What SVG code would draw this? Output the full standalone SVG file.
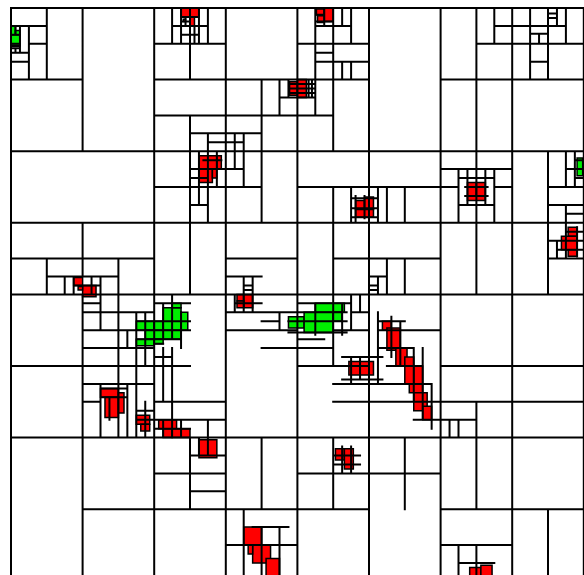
<svg xmlns="http://www.w3.org/2000/svg" width="584" height="575" viewBox="0 0 584 575">
<style>
.ln{fill:none;stroke:#000;stroke-width:2;vector-effect:non-scaling-stroke;stroke-linecap:square}
.r{fill:#f00;stroke:#000;stroke-width:1.5;vector-effect:non-scaling-stroke}
.gr{fill:#0e0;stroke:#000;stroke-width:1.5;vector-effect:non-scaling-stroke}
</style>
<rect width="584" height="575" fill="#fff"/>
<g transform="translate(11 8) scale(2.2375)">
<g id="red">
<rect class="r" x="76" y="0" width="4" height="4"/><rect class="r" x="80" y="0" width="4" height="4"/><rect class="r" x="80" y="4" width="2" height="4"/><rect class="r" x="77" y="5" width="1" height="1"/>
<rect class="r" x="124.5" y="33" width="3.5" height="6"/><rect class="r" x="128" y="32" width="4" height="8"/>
<rect class="r" x="136.5" y="0.5" width="3.5" height="2.5"/><rect class="r" x="140" y="0" width="4" height="6"/><rect class="r" x="137" y="3.5" width="3" height="3"/>
<rect class="r" x="28" y="120.5" width="4" height="3.5"/><rect class="r" x="32" y="124" width="6" height="5"/><rect class="r" x="30" y="124.5" width="2" height="1.5"/>
<rect class="r" x="84" y="66" width="8" height="6"/><rect class="r" x="92" y="66" width="2" height="6"/><rect class="r" x="84" y="72" width="6" height="6"/><rect class="r" x="90" y="72" width="2" height="4"/>
<rect class="r" x="154" y="86" width="4" height="4"/><rect class="r" x="158" y="84.5" width="4" height="5.5"/><rect class="r" x="154" y="90" width="8" height="3.5"/>
<rect class="r" x="204" y="78" width="4" height="6"/><rect class="r" x="208" y="78" width="4" height="6"/><rect class="r" x="204" y="84" width="8" height="2"/>
<rect class="r" x="249" y="98" width="4" height="4"/><rect class="r" x="246" y="102" width="7" height="6"/><rect class="r" x="249" y="108" width="4" height="3"/>
<rect class="r" x="101" y="128" width="3" height="3"/><rect class="r" x="104" y="128" width="4" height="6"/><rect class="r" x="101" y="131" width="3" height="3"/>
<rect class="r" x="40" y="170" width="8" height="4"/><rect class="r" x="42" y="174" width="6" height="9"/><rect class="r" x="48" y="172" width="2.5" height="9"/>
<rect class="r" x="56" y="182" width="6" height="4"/><rect class="r" x="58" y="186" width="4" height="3"/>
<rect class="r" x="66" y="184" width="8" height="4"/><rect class="r" x="72" y="188" width="8" height="4"/><rect class="r" x="68" y="188" width="4" height="4"/>
<rect class="r" x="84" y="193" width="8" height="8"/>
<rect class="r" x="166" y="140" width="4" height="4"/><rect class="r" x="168" y="143" width="6" height="10"/><rect class="r" x="172" y="152" width="5" height="8"/><rect class="r" x="176" y="156" width="4" height="12"/><rect class="r" x="180" y="160" width="4" height="8"/><rect class="r" x="178" y="168" width="6" height="4"/><rect class="r" x="180" y="172" width="6" height="8"/><rect class="r" x="184" y="178" width="4" height="6"/>
<rect class="r" x="151" y="158" width="5" height="6"/><rect class="r" x="156" y="158" width="6" height="6"/>
<rect class="r" x="104" y="232" width="8" height="8"/><rect class="r" x="108" y="240" width="8" height="8"/><rect class="r" x="114" y="246" width="6" height="8"/><rect class="r" x="106" y="240" width="2" height="4"/>
<rect class="r" x="145" y="197" width="4" height="5"/><rect class="r" x="149" y="197" width="4" height="9"/>
<rect class="r" x="205" y="250" width="5" height="4"/><rect class="r" x="210" y="249" width="5" height="5"/>
</g>
<g id="green">
<rect class="gr" x="0" y="8" width="2" height="4"/><rect class="gr" x="2" y="10" width="2" height="2"/><rect class="gr" x="0" y="12" width="4" height="4"/><rect class="gr" x="0" y="16" width="4" height="1"/>
<rect class="gr" x="253" y="67" width="2.5" height="8"/>
<rect class="gr" x="56" y="140" width="8" height="4"/><rect class="gr" x="60" y="144" width="16" height="4"/><rect class="gr" x="64" y="140" width="4" height="4"/><rect class="gr" x="68" y="134" width="8" height="10"/><rect class="gr" x="72" y="132" width="4" height="2"/><rect class="gr" x="56" y="148" width="8" height="3"/><rect class="gr" x="64" y="148" width="4" height="2"/><rect class="gr" x="76" y="136" width="3" height="8"/>
<rect class="gr" x="124" y="138" width="7" height="5"/><rect class="gr" x="131" y="136" width="13" height="9"/><rect class="gr" x="136" y="132" width="13" height="4"/><rect class="gr" x="144" y="136" width="4" height="4"/>
</g>
<g id="grid">
<path class="ln" d="M0 0H256V256H0Z
M16 0V32 M0 8H16 M8 8V32 M8 16H16 M0 20H8 M0 24H8 M4 8V20 M0 12H4 M0 16H4 M0 17H4 M0 18H4 M2 8V12 M2 18V20
M0 32H32 M32 0V64 M0 64H256 M64 0V256
M64 16H96 M80 16V32 M72 0V16 M88 0V16 M72 8H88 M76 0V16 M84 0V16 M76 4H84 M80 0V16 M78 4V8 M76 6H80 M82 8V16 M76 12H84
M96 0V256 M64 32H160 M192 32H256 M128 0V256
M112 32V64 M120 32V48 M120 40H136 M64 48H144 M80 48V128 M80 56H112 M88 56V96 M88 60H104 M100 56V72 M104 56V80
M124 34H136 M124 36H136 M124 38H136 M133 32V40 M134.5 32V40 M124 32V40
M136 0V16 M144 0V64 M128 16H160 M136 8H144 M140 0V8 M136 3H140 M136 6H144 M148 0V8 M152 0V16 M144 8H152
M136 16V48 M136 20H144 M136 24H160 M148 24V32 M152 24V32
M160 0V256 M192 0V256 M208 0V64 M208 16H256 M216 0V16 M216 8H248 M224 0V256 M232 0V32 M240 0V32 M232 11.5H240 M236 11.5V16 M244 0V8 M248 0V16 M240 2.5H244 M240 4.5H244 M232 24H240
M0 96H256 M32 96V112 M0 112H64 M96 112H128 M144 112H192 M240 112H256 M16 112V128 M48 112V128 M16 120H48 M32 112V120 M24 120V128 M40 120V144 M28 120V128 M36 120V128 M28 124H40
M64 80H96 M84 64V80 M92 64V80 M80 72H96 M80 76H88 M84 80V88 M80 88H88 M86 68H94
M96 72H104 M96 80H112 M112 64V96
M128 80H192 M192 80H200 M216 80H224 M240 80H256 M144 80V128 M152 80V96 M164 80V96 M168 80V96 M176 80V96 M154 84V96 M158 84V94 M152 85H164 M152 89.5H164 M152 93.5H164
M168 112V128 M160 120H168 M164 120V128 M160 124H164 M160 126H164 M176 112V128
M96 120H112 M104 120V128 M108 120V128 M104 124H108 M104 126H108
M192 72H224 M200 72V96 M216 72V96 M208 64V128 M240 64V128 M200 88H216 M204 72V88 M212 72V88 M200 76H216 M203 80H213 M203 84H213
M248 64V80 M252 64V80 M248 72H256 M252 68H256 M252 76H256 M240 88H256 M248 88V96 M248 92H256 M248 96V112 M240 104H256 M244 104V112 M253 98V111 M248 100H256 M244 108H256
M0 128H256 M0 160H64 M0 192H256 M32 128V256 M32 132H40 M32 136H64 M48 128V192 M56 136V192 M32 144H56 M52 144V152 M32 152H64
M56 140H80 M56 144H80 M56 148H76 M60 136V152 M64 136V152 M68 132V148 M72 132V148 M76 136V152 M64 150H68 M60 152V160
M32 168H56 M40 168V192 M32 176H40 M40 170H52 M40 174H52 M44 174V184 M52 168V192 M56 180H64 M56 184H64 M60 176V192 M56 168H64
M64 132H80 M72 128V132 M64 176H96 M64 184H96 M72 176V192 M88 184V192 M96 136H128 M96 144H128 M112 152H128 M120 136V144 M112 140H120 M100 128V136 M104 128V136 M108 128V136 M100 132H112 M64 156H72 M64 160H80 M68 152V176 M72 152V176 M68 184V192 M64 188H80 M76 184V192
M124 136H150 M124 140H150 M124 145H150 M128 132V146 M136 132V146 M144 128V160 M148 132V146 M128 132H152 M152 128V144 M128 152H144 M128 148H140 M156 128V136 M152 136H160 M144 144H160
M164 136V168 M170 138V156 M174 140V160 M180 152V176 M184 152V184 M188 168V188 M164 140H176 M164 144H176 M164 152H180 M168 160H184 M172 168H188 M176 176H192 M180 184H192 M176 144H192
M148 156H166 M148 166H166 M152 156V168 M156 156V166 M160 156V168 M164 156V168 M128 160H160 M144 168H176 M144 176H192
M192 160H256 M192 176H256 M208 176V192 M192 184H208 M196 184V192 M200 184V192
M32 224H96 M80 192V224 M64 208H96 M80 216H96 M84 192V200 M88 192V200 M80 200H96 M112 192V224 M96 224H128 M104 224V256 M112 232V256 M96 240H128 M120 232V256 M108 232H124 M144 192V224 M128 208H160 M128 224H160 M148 196V208 M152 196V208 M144 200H156 M144 204H156 M176 192V224 M160 208H192 M208 192V224 M192 224H256 M240 224V256 M200 240V256 M208 240V256 M200 248H216 M192 240H224"/>
</g>
</g>
</svg>
